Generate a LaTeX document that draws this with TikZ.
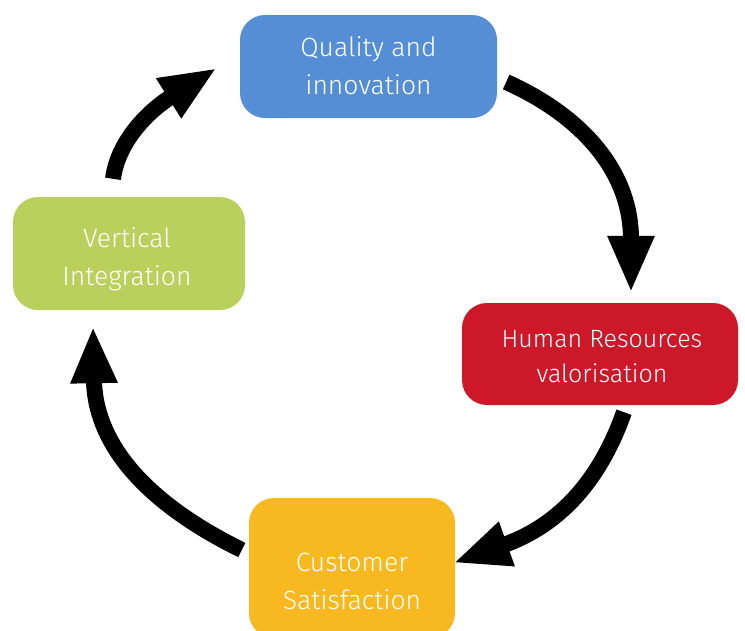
\documentclass[tikz,border=0pt]{standalone}
\usepackage{fontspec}
\setmainfont{Fira Sans Light}
\usetikzlibrary{arrows.meta}
\definecolor{qblue}{RGB}{86,142,213}
\definecolor{hrred}{RGB}{205,24,42}
\definecolor{csorange}{RGB}{247,184,32}
\definecolor{vigreen}{RGB}{185,209,92}
\tikzset{
  box/.style={rounded corners=25pt, inner sep=0pt},
  txt/.style={text=white, align=center, font=\fontsize{26.5}{38}\selectfont},
  flow/.style={line width=16pt, -{Triangle[length=57pt,width=43pt]}}
}
\begin{document}
\begin{tikzpicture}[x=1pt,y=-1pt]
\useasboundingbox (0,0) rectangle (745,630);
\begin{scope}
\clip (0,0) rectangle (745,630);
\node[box, fill=qblue, minimum width=257pt, minimum height=103pt] (q) at (368.5,66.5) {};
\node[box, fill=hrred, minimum width=276pt, minimum height=102pt] (hr) at (600,354) {};
\node[box, fill=csorange, minimum width=206pt, minimum height=140pt] (cs) at (352,568) {};
\node[box, fill=vigreen, minimum width=232pt, minimum height=113pt] (vi) at (129,253.5) {};
\end{scope}
\node[txt] (qt) at (368.5,66) {Quality and\\innovation};
\node[txt, font=\fontsize{25}{35}\selectfont] (hrt) at (602,357) {Human Resources\\valorisation};
\node[txt] (cst) at (352,581) {Customer\\Satisfaction};
\node[txt] (vit) at (127,259) {Vertical\\Integration};
\draw[flow] ([shift={(9,15.5)}]q.east) .. controls (580,115) and (631,170) .. ([shift={(31,-10)}]hr.north);
\draw[flow] ([shift={(24,7)}]hr.south) .. controls (600,480) and (560,525) .. ([shift={(-2,-5)}]cs.east);
\draw[flow] ([shift={(-7,-18)}]cs.west) .. controls (140,500) and (95,440) .. ([shift={(-36,16)}]vi.south);
\draw[flow] ([shift={(-16,-18)}]vi.north) .. controls (118,140) and (150,110) .. ([shift={(-23,1.5)}]q.west);
\end{tikzpicture}
\end{document}
